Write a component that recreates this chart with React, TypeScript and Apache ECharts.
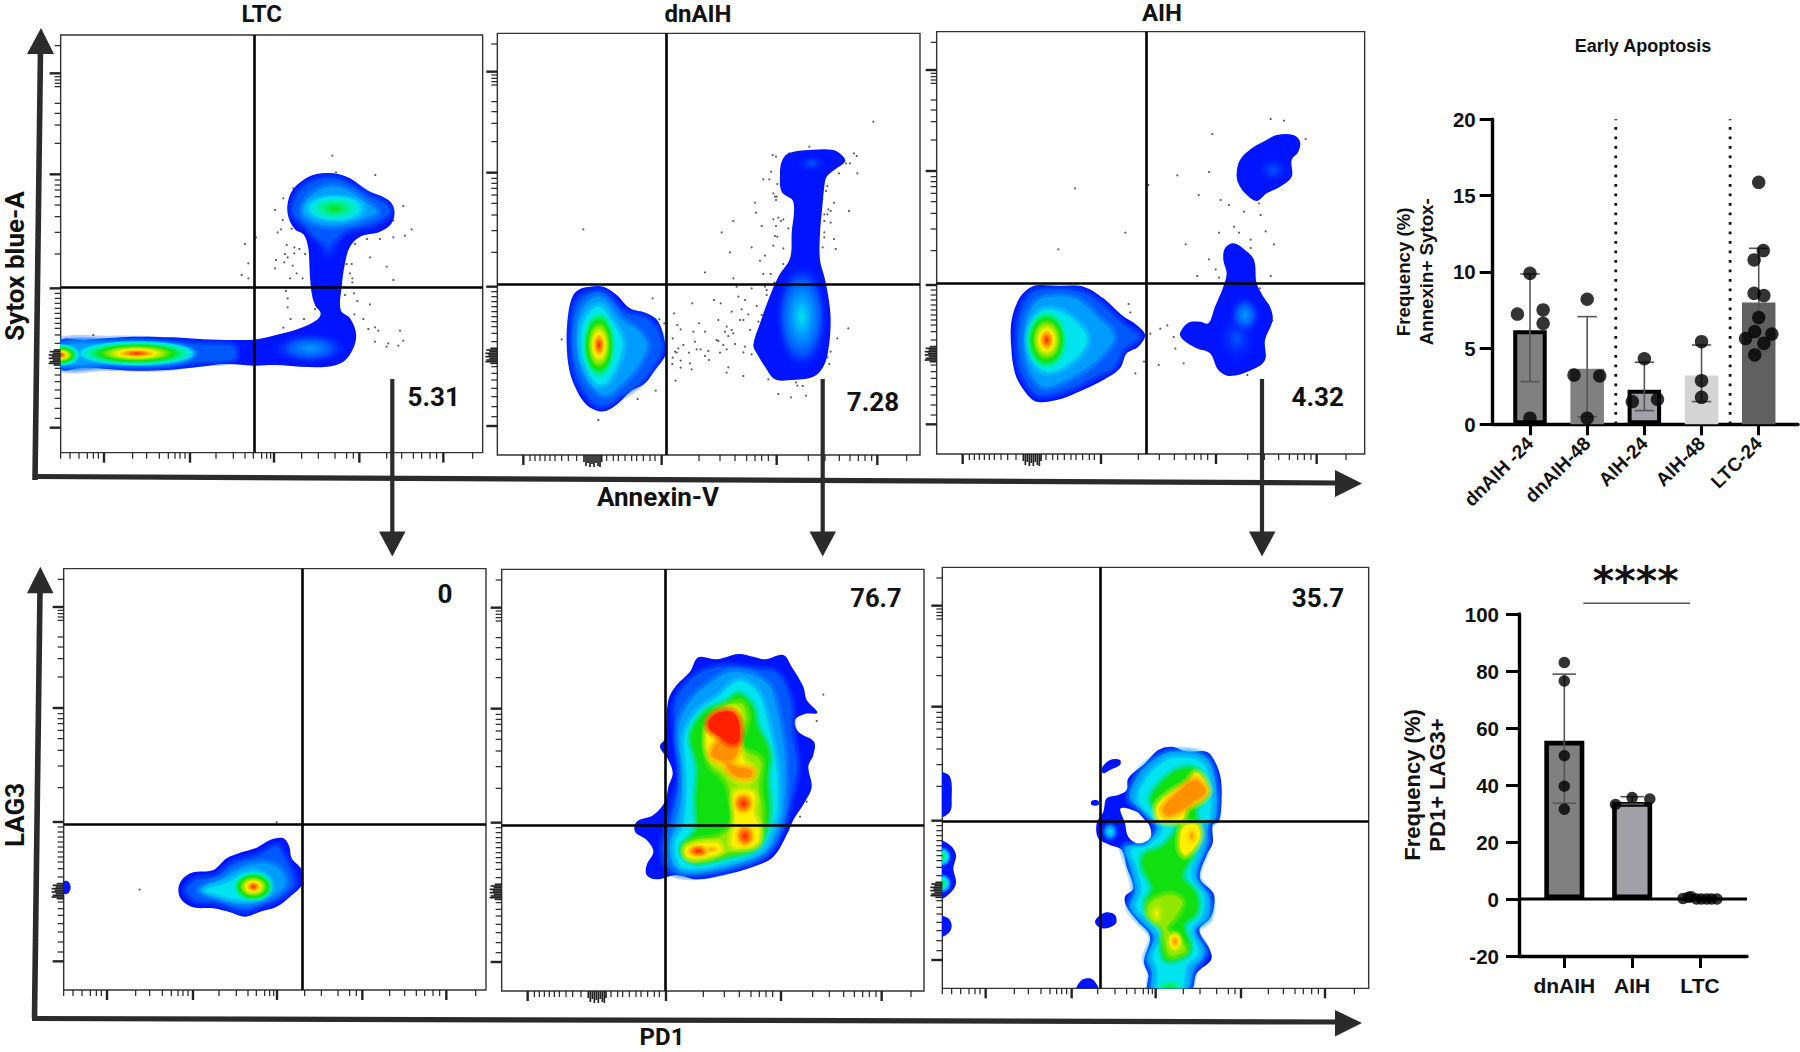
import React, { useEffect, useRef } from "react";
import * as echarts from "echarts";

/* ---------- bar chart data ---------- */
const earlyCategories = ["dnAIH -24", "dnAIH-48", "AIH-24", "AIH-48", "LTC-24"];
const earlyMeans = [6.16, 3.65, 2.27, 3.2, 7.98];
const earlyErrHigh = [9.86, 7.06, 4.07, 5.2, 11.54];
const earlyErrLow = [2.8, 0.5, 0.9, 1.49, 4.77];
const earlyPoints = [
  [1, 9.9], [0.78, 7.23], [1.23, 7.5], [1.23, 6.62], [1, 0.4],
  [2, 8.2], [1.77, 3.23], [2.22, 3.17], [2, 0.4],
  [3, 4.3], [2.79, 1.49], [3.23, 1.64],
  [4, 5.42], [4, 2.86], [4, 1.77],
  [5, 15.87], [5.08, 11.39], [4.92, 10.78], [4.92, 8.59], [5.09, 8.44], [5, 7.0],
  [4.93, 6.08], [5.23, 5.92], [4.77, 5.62], [5.09, 5.31], [4.93, 4.55],
];
const earlyFill = ["#808080", "#808080", "#a0a0a6", "#d4d4d4", "#606060"];
const earlyBorder = ["#000000", "#808080", "#000000", "#d4d4d4", "#606060"];
const earlySeparators = [2.5, 4.5];

const pdCategories = ["dnAIH", "AIH", "LTC"];
const pdMeans = [55.5, 34.0, 0];
const pdErrHigh = [78.9, 35.9];
const pdErrLow = [33.6, 33.3];
const pdFill = ["#808080", "#a0a0a6"];
const pdPoints = [
  [1, 83], [1, 76.5], [1, 50.3], [1, 39.6], [1, 31.5],
  [1.755, 33.2], [2, 35.6], [2.26, 35.1],
  [2.75, 0.2], [2.83, 0.6], [2.87, 0.8], [2.95, 0], [3.02, 0], [3.1, 0], [3.17, 0], [3.25, 0],
];

/* ---------- flow cytometry ticks (channel offsets from panel edge) ---------- */
const yMinorTicks = [32, 125, 135, 145, 155, 205, 235, 270, 325, 435, 450, 465, 485, 510, 545, 592, 657, 775, 790, 805, 820, 835, 850, 865, 880, 900, 925, 1000, 1020, 1040, 1065, 1090, 1120, 1150];
const yMajorTicks = [115, 418, 760, 1178];
const yClusterTicks = [945, 950, 955, 960, 965, 970, 975, 980, 985, 990];
const clusterLengths = [7, 11, 8, 12, 9, 12, 8, 11, 12, 7];
const xMinorA = [0, 28, 55, 80, 98, 113, 216, 258, 296, 323, 343, 358, 373, 466, 518, 553, 578, 603, 618, 630, 723, 773, 823, 858, 878, 978, 1023, 1058, 1083, 1108, 1128, 1236];
const xMajorA = [130, 388, 640, 896, 1148];
const xClusterA: number[] = [];
const xMinorB = [98, 113, 128, 143, 158, 173, 193, 213, 238, 328, 348, 363, 383, 403, 418, 438, 458, 473, 605, 668, 713, 748, 773, 793, 813, 933, 983, 1026, 1058, 1083, 1103, 1123, 1228];
const xMajorB = [78, 493, 838, 1140];
const xClusterB = [260, 266, 272, 278, 284, 290, 296, 302, 308, 313];

/* ---------- density colours ---------- */
const ramp = ["#0014ff", "#0058ff", "#009cff", "#00e4f0", "#00f090", "#10e010", "#90e800", "#fff000", "#ff9000", "#ff2000"];

/* ---------- LTC, Annexin-V / Sytox ---------- */
const ltcTopOutline = [[183, 1022], [250, 1020], [330, 1014], [400, 1010], [520, 1012], [610, 1018], [700, 1020], [770, 1018], [840, 1002], [900, 985], [950, 960], [962, 940], [945, 915], [935, 880], [930, 830], [928, 790], [925, 745], [912, 705], [885, 688], [865, 650], [863, 610], [878, 570], [910, 540], [950, 522], [1000, 520], [1050, 535], [1100, 570], [1165, 600], [1183, 630], [1175, 670], [1140, 695], [1080, 710], [1050, 740], [1035, 790], [1025, 860], [1022, 930], [1050, 955], [1068, 1000], [1060, 1045], [1030, 1085], [980, 1100], [900, 1100], [830, 1095], [760, 1097], [680, 1092], [600, 1100], [500, 1110], [400, 1112], [330, 1108], [250, 1102], [183, 1108]];
const ltcTopStreakL1 = [[170, 1030], [330, 1022], [480, 1025], [620, 1035], [700, 1040], [700, 1075], [600, 1085], [480, 1100], [330, 1098], [170, 1098]];
const ltcTopStreakL2 = [[170, 1040], [330, 1030], [470, 1032], [560, 1048], [560, 1075], [470, 1090], [330, 1090], [170, 1090]];
const ltcTopLobeL1 = [[880, 640], [890, 590], [930, 550], [1000, 535], [1060, 560], [1110, 590], [1160, 615], [1165, 640], [1120, 670], [1040, 690], [1000, 720], [960, 720], [920, 680]];
const ltcTopLobeL2 = [[910, 640], [930, 590], [990, 560], [1050, 575], [1100, 610], [1130, 635], [1090, 655], [1020, 675], [950, 670]];
const ltcTopBase = [[930, 1045], [985, 730]];
const ltcTopBaseSizes = [[120, 50, 0, 2], [45, 70, 0, 1]];
const ltcTopSpots = [[1005, 625], [410, 1060], [183, 1065]];
const ltcTopSpotSizes = [[108, 50, 2, 5], [190, 40, 2, 9], [60, 35, 2, 9]];
const ltcTopDots = [[997, 467], [1008, 517], [1126, 525], [880, 565], [850, 595], [825, 630], [1210, 618], [1235, 688], [1180, 662], [848, 660], [843, 688], [875, 686], [833, 697], [735, 732], [768, 712], [860, 735], [883, 742], [898, 747], [883, 760], [855, 762], [915, 762], [863, 772], [828, 780], [853, 787], [745, 790], [878, 797], [825, 805], [725, 825], [745, 835], [890, 820], [870, 835], [908, 835], [1101, 717], [1140, 717], [1180, 712], [1215, 707], [1065, 732], [1110, 772], [1040, 792], [1055, 792], [1160, 800], [1050, 820], [1057, 835], [1057, 847], [1180, 840], [858, 873], [863, 895], [863, 922], [1035, 885], [1062, 880], [1072, 903], [1110, 913], [945, 927], [872, 957], [912, 957], [1063, 943], [1090, 957], [850, 983], [1105, 987], [1125, 982], [1135, 992], [1200, 992], [1210, 1022], [1125, 1025], [1165, 1030], [1160, 1040], [1195, 1037], [280, 1005]];

/* ---------- dnAIH, Annexin-V / Sytox ---------- */
const dnTopOutlineLeft = [[300, 800], [340, 800], [380, 825], [420, 865], [470, 880], [505, 905], [527, 975], [527, 1005], [495, 1050], [465, 1090], [420, 1115], [385, 1150], [350, 1172], [320, 1172], [285, 1150], [255, 1100], [238, 1050], [230, 970], [235, 880], [250, 825], [275, 805]];
const dnTopLeftL1 = [[310, 815], [345, 820], [400, 875], [465, 895], [500, 930], [515, 985], [480, 1050], [440, 1095], [385, 1130], [345, 1155], [310, 1145], [270, 1090], [250, 1030], [245, 960], [250, 880], [270, 835]];
const dnTopLeftL2 = [[320, 830], [350, 845], [395, 900], [440, 930], [470, 975], [440, 1040], [395, 1090], [345, 1125], [300, 1090], [270, 1030], [260, 960], [268, 890], [290, 850]];
const dnTopLeftL3 = [[327, 860], [365, 905], [395, 960], [385, 1020], [350, 1085], [320, 1090], [285, 1030], [275, 965], [285, 900]];
const dnTopOutlineRight = [[895, 400], [960, 390], [1030, 390], [1060, 410], [1065, 425], [1040, 445], [1010, 470], [1003, 500], [997, 560], [990, 640], [990, 720], [1003, 770], [1015, 830], [1022, 900], [1015, 990], [1000, 1040], [970, 1070], [900, 1080], [855, 1078], [825, 1040], [800, 1000], [790, 975], [810, 910], [835, 840], [865, 770], [900, 715], [905, 640], [910, 545], [875, 515], [870, 460], [875, 425]];
const dnTopSpots = [[327, 975], [935, 890], [965, 430]];
const dnTopSpotSizes = [[52, 105, 3, 9], [82, 165, 0, 3], [50, 30, 0, 1]];
const dnTopDots = [[280, 628], [215, 958], [325, 1200], [443, 1137], [497, 1112], [488, 835], [508, 898], [523, 910], [1150, 305], [958, 380], [848, 405], [858, 410], [898, 400], [1092, 400], [1100, 408], [1080, 430], [1068, 430], [843, 455], [820, 478], [838, 478], [862, 492], [1047, 460], [1102, 460], [1012, 498], [1008, 513], [850, 520], [855, 530], [860, 530], [858, 540], [997, 538], [795, 548], [1032, 548], [798, 578], [1015, 568], [1022, 573], [1077, 573], [1003, 583], [1012, 583], [730, 603], [850, 598], [865, 593], [880, 598], [873, 603], [858, 618], [815, 618], [1003, 603], [1022, 608], [895, 625], [695, 637], [1003, 637], [855, 648], [862, 650], [1003, 652], [1032, 657], [850, 677], [880, 685], [785, 682], [998, 682], [1037, 687], [720, 697], [825, 707], [810, 722], [880, 732], [645, 757], [820, 762], [842, 762], [730, 775], [853, 788], [740, 800], [785, 805], [825, 800], [830, 810], [745, 830], [765, 840], [830, 825], [672, 840], [692, 850], [607, 850], [800, 858], [755, 868], [725, 875], [775, 883], [552, 880], [815, 885], [750, 900], [760, 900], [685, 900], [627, 910], [805, 905], [562, 915], [710, 920], [705, 935], [725, 930], [780, 930], [645, 935], [610, 935], [572, 928], [730, 940], [715, 948], [548, 955], [680, 960], [685, 963], [615, 965], [580, 975], [700, 975], [735, 972], [765, 980], [1075, 925], [1042, 955], [565, 985], [555, 995], [560, 998], [620, 988], [632, 988], [655, 993], [710, 988], [597, 998], [690, 998], [760, 997], [785, 1003], [548, 1013], [645, 1008], [657, 1020], [572, 1022], [600, 1030], [547, 1032], [572, 1043], [605, 1048], [715, 1042], [710, 1058], [760, 1068], [557, 1082], [1022, 995], [1012, 1012], [1018, 1032], [835, 1078], [918, 1087], [922, 1097], [938, 1098], [865, 1122], [903, 1132], [948, 1127]];

/* ---------- AIH, Annexin-V / Sytox ---------- */
const aihTopOutlineLeft = [[320, 796], [385, 798], [460, 800], [520, 835], [575, 885], [620, 915], [645, 945], [625, 980], [590, 1000], [570, 1045], [520, 1080], [440, 1118], [380, 1140], [320, 1145], [285, 1115], [255, 1060], [243, 970], [245, 900], [265, 840], [290, 810]];
const aihTopLeftL1 = [[330, 810], [450, 815], [520, 860], [580, 915], [625, 950], [580, 985], [550, 1040], [500, 1065], [420, 1105], [330, 1125], [295, 1095], [270, 1040], [262, 960], [272, 880], [295, 830]];
const aihTopLeftL2 = [[340, 835], [430, 835], [500, 890], [550, 950], [520, 1000], [460, 1050], [350, 1100], [310, 1070], [285, 1000], [285, 920], [305, 865]];
const aihTopLeftL3 = [[345, 870], [400, 880], [455, 925], [470, 960], [450, 1000], [400, 1040], [350, 1055], [315, 1030], [300, 985], [300, 930], [318, 890]];
const aihTopOutlineMid = [[880, 800], [890, 760], [880, 720], [885, 685], [910, 670], [945, 690], [972, 720], [980, 790], [1000, 830], [1020, 860], [1028, 900], [1005, 960], [1005, 1020], [965, 1050], [900, 1068], [865, 1050], [840, 1000], [800, 985], [760, 960], [750, 940], [775, 908], [810, 905], [835, 910], [855, 860]];
const aihTopOutlineUpper = [[920, 460], [930, 420], [965, 385], [1000, 365], [1040, 345], [1090, 345], [1110, 365], [1105, 395], [1085, 420], [1085, 470], [1050, 500], [1010, 520], [980, 543], [945, 520], [925, 490]];
const aihTopSpots = [[350, 960], [920, 955], [945, 885], [1030, 450]];
const aihTopSpotSizes = [[65, 92, 3, 9], [65, 85, 0, 1], [50, 60, 0, 2], [55, 45, 0, 1]];
const aihTopDots = [[1022, 297], [1062, 302], [1127, 357], [847, 342], [837, 456], [742, 466], [655, 495], [435, 505], [806, 525], [872, 540], [897, 555], [987, 550], [942, 575], [992, 585], [912, 620], [1007, 634], [867, 638], [927, 638], [586, 638], [385, 688], [767, 673], [962, 659], [962, 684], [1032, 673], [837, 718], [857, 748], [802, 768], [867, 773], [1022, 768], [882, 803], [990, 805], [460, 803], [520, 838], [596, 852], [601, 877], [712, 916], [691, 926], [661, 941], [731, 951], [736, 986], [810, 985], [642, 1025], [686, 1035], [761, 1030], [616, 1060], [952, 1065], [1027, 902]];

/* ---------- LTC, PD1 / LAG3 ---------- */
const ltcBottomOutline = [[535, 1020], [545, 990], [575, 968], [640, 960], [680, 925], [720, 908], [770, 893], [810, 870], [850, 865], [868, 890], [875, 925], [905, 960], [905, 1005], [870, 1040], [830, 1070], [780, 1085], [735, 1100], [695, 1088], [640, 1075], [580, 1072], [545, 1050]];
const ltcBottomL1 = [[560, 1020], [590, 990], [650, 980], [700, 940], [770, 920], [830, 890], [850, 920], [875, 970], [880, 1005], [840, 1040], [780, 1065], [730, 1080], [650, 1055], [590, 1050]];
const ltcBottomL2 = [[600, 1020], [660, 990], [720, 955], [790, 940], [840, 960], [855, 1000], [820, 1035], [770, 1055], [720, 1060], [650, 1040]];
const ltcBottomL3 = [[620, 1020], [680, 1000], [740, 970], [790, 975], [810, 1010], [780, 1040], [720, 1048], [660, 1035]];
const ltcBottomSmall = [[190, 995], [205, 995], [212, 1012], [205, 1030], [190, 1030]];
const ltcBottomSpots = [[760, 1010]];
const ltcBottomSpotSizes = [[62, 46, 3, 9]];
const ltcBottomDots = [[419, 1019], [830, 817]];

/* ---------- dnAIH, PD1 / LAG3 ---------- */
const dnBottomOutline = [[625, 292], [680, 298], [745, 282], [790, 290], [825, 298], [880, 285], [905, 320], [940, 380], [950, 420], [982, 458], [945, 462], [915, 480], [925, 515], [972, 545], [970, 585], [955, 620], [965, 680], [945, 725], [910, 780], [895, 815], [850, 890], [790, 920], [700, 945], [620, 958], [560, 945], [500, 958], [470, 945], [470, 915], [490, 875], [470, 840], [435, 815], [440, 785], [490, 765], [525, 725], [535, 680], [548, 640], [535, 600], [510, 560], [525, 535], [535, 420], [560, 375], [600, 335]];
const dnBottomMid = [[710, 320], [800, 330], [860, 340], [900, 420], [905, 520], [920, 620], [900, 720], [880, 790], [840, 870], [760, 915], [620, 945], [540, 930], [520, 860], [545, 760], [570, 650], [560, 520], [560, 420], [630, 340]];
const dnBottomL2 = [[735, 335], [830, 370], [860, 450], [880, 560], [885, 640], [880, 750], [860, 820], [820, 880], [760, 905], [640, 930], [560, 925], [540, 860], [560, 780], [575, 700], [575, 620], [565, 520], [590, 440], [660, 370]];
const dnBottomCyan = [[745, 365], [800, 395], [825, 460], [850, 570], [860, 640], [860, 750], [845, 800], [820, 860], [780, 885], [700, 910], [620, 925], [570, 915], [555, 850], [580, 800], [590, 720], [590, 630], [585, 530], [620, 460], [680, 415]];
const dnBottomGreen = [[745, 405], [785, 440], [800, 500], [835, 575], [830, 650], [835, 760], [820, 825], [790, 865], [700, 890], [620, 905], [585, 885], [578, 860], [620, 810], [620, 720], [625, 620], [605, 525], [650, 455], [710, 430]];
const dnBottomYellowGreen = [[750, 430], [770, 470], [750, 560], [810, 600], [805, 680], [815, 760], [800, 850], [720, 875], [640, 895], [590, 885], [600, 850], [690, 830], [730, 790], [720, 690], [700, 650], [660, 610], [650, 520], [670, 460]];
const dnBottomY1 = [[740, 450], [745, 540], [760, 600], [790, 630], [780, 660], [745, 660], [700, 620], [660, 590], [650, 520], [670, 470]];
const dnBottomY2 = [[735, 700], [790, 700], [790, 760], [805, 800], [800, 850], [740, 862], [725, 850], [735, 780]];
const dnBottomY3 = [[590, 862], [680, 850], [692, 872], [620, 895], [590, 888]];
const dnBottomRed = [[680, 460], [725, 455], [745, 480], [750, 520], [745, 545], [720, 550], [690, 530], [660, 510], [655, 485]];
const dnBottomOrange1 = [[700, 540], [745, 550], [735, 590], [720, 600], [690, 600], [665, 585], [675, 555]];
const dnBottomOrange2 = [[710, 612], [745, 622], [785, 632], [780, 650], [745, 650], [720, 635]];
const dnBottomSpots = [[760, 730], [765, 828], [625, 873], [665, 868]];
const dnBottomSpotSizes = [[38, 40, 7, 9], [36, 42, 7, 9], [40, 24, 7, 9], [30, 14, 7, 8]];
const dnBottomDots = [[1000, 404], [980, 483], [950, 725], [930, 770]];

/* ---------- AIH, PD1 / LAG3 ---------- */
const aihBottomOutline = [[725, 560], [770, 575], [830, 575], [855, 605], [873, 660], [873, 750], [865, 785], [848, 795], [848, 850], [830, 885], [810, 955], [850, 1000], [852, 1040], [840, 1075], [808, 1110], [840, 1170], [843, 1200], [800, 1240], [782, 1290], [655, 1290], [655, 1245], [642, 1205], [660, 1130], [620, 1080], [590, 1040], [585, 1010], [610, 985], [590, 920], [575, 870], [540, 855], [505, 835], [500, 790], [520, 755], [530, 715], [565, 705], [590, 690], [595, 655], [645, 610], [685, 570]];
const aihBottomHole = [[572, 745], [620, 755], [640, 775], [660, 800], [660, 835], [625, 850], [595, 830], [585, 790]];
const aihBottomSmall = [
  [[515, 625], [540, 600], [570, 600], [570, 615], [540, 630], [520, 640]],
  [[485, 722], [505, 722], [505, 735], [485, 735]],
  [[505, 1070], [530, 1057], [555, 1065], [558, 1090], [530, 1105], [505, 1100], [495, 1085]],
  [[440, 1290], [455, 1260], [480, 1255], [495, 1265], [505, 1290]],
  [[30, 640], [60, 650], [65, 720], [60, 755], [30, 770]],
  [[30, 845], [60, 855], [78, 885], [70, 925], [78, 970], [60, 1000], [30, 1015]],
  [[30, 1070], [55, 1075], [65, 1098], [55, 1120], [30, 1130]],
];
const aihBottomL2 = [[725, 575], [825, 590], [855, 660], [858, 770], [835, 795], [832, 850], [800, 950], [838, 1010], [835, 1075], [795, 1110], [825, 1175], [790, 1230], [770, 1290], [668, 1290], [665, 1235], [650, 1195], [670, 1130], [628, 1080], [600, 1040], [615, 990], [600, 920], [585, 862], [645, 855], [680, 800], [645, 755], [600, 715], [625, 645], [670, 600]];
const aihBottomCyan = [[725, 595], [810, 605], [838, 660], [838, 770], [818, 790], [812, 850], [782, 945], [820, 1010], [815, 1065], [782, 1110], [805, 1180], [770, 1215], [752, 1290], [688, 1290], [682, 1225], [670, 1190], [690, 1130], [650, 1075], [620, 1040], [635, 990], [620, 920], [605, 870], [655, 858], [700, 805], [660, 765], [625, 715], [650, 655], [690, 615]];
const aihBottomGreen = [[795, 630], [822, 670], [822, 710], [795, 745], [800, 800], [788, 875], [755, 950], [795, 1000], [798, 1055], [760, 1095], [778, 1165], [745, 1195], [705, 1195], [698, 1140], [705, 1105], [660, 1060], [650, 1025], [670, 985], [640, 920], [645, 885], [700, 860], [745, 800], [710, 770], [665, 720], [700, 665], [750, 630]];
const aihBottomLime1 = [[660, 1030], [720, 1005], [755, 1025], [735, 1070], [710, 1105], [755, 1150], [765, 1172], [720, 1185], [705, 1140], [695, 1100], [655, 1065]];
const aihBottomY1 = [[800, 640], [835, 690], [815, 720], [770, 745], [755, 780], [690, 780], [680, 740], [720, 700], [770, 670]];
const aihBottomO1 = [[795, 660], [825, 695], [790, 725], [745, 755], [710, 765], [700, 745], [740, 700]];
const aihBottomY2 = [[760, 800], [800, 795], [810, 830], [790, 865], [765, 885], [750, 860]];
const aihBottomSpots = [[785, 828], [680, 1060], [735, 1145], [720, 1285], [540, 815], [37, 890], [37, 970]];
const aihBottomSpotSizes = [[22, 34, 7, 8], [30, 48, 6, 7], [28, 38, 6, 8], [50, 30, 3, 5], [26, 30, 1, 3], [28, 30, 1, 5], [28, 30, 1, 5]];

function Contour(level: number, pts: number[][]) { return { kind: "soft", level, pts }; }
function Flat(pts: number[][], fill = ramp[0]) { return { kind: "flat", fill, pts }; }
function spotList(centres: number[][], sizes: number[][]) {
  return centres.map((c, i) => ({ kind: "spot", c, s: sizes[i] }));
}

const panels: any[] = [
  { ox: 0, oy: 0, L: 182, R: 1448, T: 105, B: 1358, gx: 763, gy: 862, xm: xMinorA, xM: xMajorA, xc: xClusterA,
    shapes: [Flat(ltcTopOutline), ...spotList(ltcTopBase, ltcTopBaseSizes), Contour(1, ltcTopStreakL1), Contour(2, ltcTopStreakL2), Contour(1, ltcTopLobeL1), Contour(2, ltcTopLobeL2), ...spotList(ltcTopSpots, ltcTopSpotSizes)], dots: ltcTopDots },
  { ox: 490, oy: 20, L: 22, R: 1290, T: 40, B: 1305, gx: 530, gy: 792, xm: xMinorB, xM: xMajorB, xc: xClusterB,
    shapes: [Flat(dnTopOutlineLeft), Flat(dnTopOutlineRight), Contour(1, dnTopLeftL1), Contour(2, dnTopLeftL2), Contour(3, dnTopLeftL3), ...spotList(dnTopSpots, dnTopSpotSizes)], dots: dnTopDots },
  { ox: 930, oy: 20, L: 20, R: 1304, T: 35, B: 1302, gx: 649, gy: 790, xm: xMinorB, xM: xMajorB, xc: xClusterB,
    shapes: [Flat(aihTopOutlineLeft), Flat(aihTopOutlineMid), Flat(aihTopOutlineUpper), Contour(1, aihTopLeftL1), Contour(2, aihTopLeftL2), Contour(3, aihTopLeftL3), ...spotList(aihTopSpots, aihTopSpotSizes)], dots: aihTopDots },
  { ox: 0, oy: 550, L: 191, R: 1458, T: 56, B: 1320, gx: 906, gy: 823, xm: xMinorA, xM: xMajorA, xc: xClusterA,
    shapes: [Flat(ltcBottomOutline), Flat(ltcBottomSmall), Contour(1, ltcBottomL1), Contour(2, ltcBottomL2), Contour(3, ltcBottomL3), ...spotList(ltcBottomSpots, ltcBottomSpotSizes)], dots: ltcBottomDots },
  { ox: 490, oy: 560, L: 35, R: 1302, T: 28, B: 1293, gx: 527, gy: 796, xm: xMinorB, xM: xMajorB, xc: xClusterB,
    shapes: [Flat(dnBottomOutline), Contour(1, dnBottomMid), Contour(2, dnBottomL2), Contour(3, dnBottomCyan), Contour(5, dnBottomGreen), Contour(6, dnBottomYellowGreen), Contour(7, dnBottomY1), Contour(7, dnBottomY2), Contour(7, dnBottomY3), Contour(8, dnBottomOrange1), Contour(8, dnBottomOrange2), Contour(9, dnBottomRed), ...spotList(dnBottomSpots, dnBottomSpotSizes)], dots: dnBottomDots },
  { ox: 930, oy: 560, L: 37, R: 1316, T: 22, B: 1285, gx: 510, gy: 785, xm: xMinorA, xM: xMajorA, xc: xClusterA,
    shapes: [Flat(aihBottomOutline), ...aihBottomSmall.map((p) => Flat(p)), Contour(2, aihBottomL2), Contour(3, aihBottomCyan), Contour(5, aihBottomGreen), Contour(6, aihBottomLime1), Contour(7, aihBottomY1), Contour(8, aihBottomO1), Contour(7, aihBottomY2), Flat(aihBottomHole, "#ffffff"), ...spotList(aihBottomSpots, aihBottomSpotSizes)], dots: [] as number[][] },
];

const FLOW_FONT = "Roboto, sans-serif";
const BAR_FONT = '"Liberation Sans", Arial, sans-serif';

function hexA(hex: string, a: number) {
  const n = parseInt(hex.slice(1), 16);
  return `rgba(${(n >> 16) & 255},${(n >> 8) & 255},${n & 255},${a})`;
}

function flowSeries(p: any, i: number) {
  const densityItem = (params: any, api: any) => {
    const sh = p.shapes[params.dataIndex];
    if (sh.kind === "spot") {
      const c = api.coord(sh.c);
      const edge = api.coord([sh.c[0] + sh.s[0], sh.c[1] + sh.s[1]]);
      const [, , from, peak] = sh.s;
      const stops: any[] = [];
      for (let l = peak; l >= from; l--) {
        const off = (peak - l) / (peak - from);
        stops.push({ offset: off, color: l === from ? hexA(ramp[l], 0) : ramp[l] });
      }
      return {
        type: "ellipse",
        shape: { cx: c[0], cy: c[1], rx: Math.abs(edge[0] - c[0]), ry: Math.abs(edge[1] - c[1]) },
        style: { fill: { type: "radial", x: 0.5, y: 0.5, r: 0.5, colorStops: stops } },
      };
    }
    const points = sh.pts.map((q: number[]) => api.coord(q));
    if (sh.kind === "flat") {
      return { type: "polygon", shape: { points, smooth: 0.35 }, style: { fill: sh.fill } };
    }
    const col = ramp[sh.level];
    return {
      type: "group",
      children: [
        ...[10, 6, 3].map((w) => ({
          type: "polygon",
          shape: { points, smooth: 0.35 },
          style: { fill: "none", stroke: col, lineWidth: w, opacity: 0.28, lineJoin: "round" },
        })),
        { type: "polygon", shape: { points, smooth: 0.35 }, style: { fill: col } },
      ],
    };
  };
  const xTicks = [
    ...p.xm.map((v: number) => [p.L + v, p.B, 6, 1.2]),
    ...p.xM.map((v: number) => [p.L + v, p.B, 10, 2.4]),
    ...p.xc.map((v: number, k: number) => [p.L + v, p.B, clusterLengths[k], 1.7]),
  ];
  const yTicks = [
    ...yMinorTicks.map((v) => [p.L, p.T + v, 6, 1.2]),
    ...yMajorTicks.map((v) => [p.L, p.T + v, 11, 2.4]),
    ...yClusterTicks.map((v, k) => [p.L, p.T + v, clusterLengths[k], 1.7]),
  ];
  const tickItem = (vertical: boolean) => (_: any, api: any) => {
    const q = api.coord([api.value(0), api.value(1)]);
    const len = api.value(2);
    return {
      type: "line",
      shape: vertical
        ? { x1: q[0], y1: q[1], x2: q[0] - len, y2: q[1] }
        : { x1: q[0], y1: q[1], x2: q[0], y2: q[1] + len },
      style: { stroke: "#222222", lineWidth: api.value(3) },
    };
  };
  return [
    {
      type: "custom", xAxisIndex: i, yAxisIndex: i, z: 2, clip: true, silent: true,
      renderItem: densityItem, data: p.shapes.map(() => [p.L, p.T]), encode: { x: 0, y: 1 },
    },
    {
      type: "scatter", xAxisIndex: i, yAxisIndex: i, z: 3, silent: true, symbolSize: 2.2,
      itemStyle: { color: "#333333" }, data: p.dots,
      markLine: {
        silent: true, symbol: "none", label: { show: false }, z: 4,
        lineStyle: { color: "#000000", width: 2.6, type: "solid" },
        data: [{ xAxis: p.gx }, { yAxis: p.gy }],
      },
    },
    { type: "custom", xAxisIndex: i, yAxisIndex: i, z: 3, silent: true, clip: false, renderItem: tickItem(false), data: xTicks, encode: { x: 0, y: 1 } },
    { type: "custom", xAxisIndex: i, yAxisIndex: i, z: 3, silent: true, clip: false, renderItem: tickItem(true), data: yTicks, encode: { x: 0, y: 1 } },
  ];
}

function errorSeries(xIdx: number, xs: number[], hi: number[], lo: number[], cap: number) {
  return {
    type: "custom", xAxisIndex: xIdx, yAxisIndex: xIdx, z: 5, silent: true, clip: false,
    encode: { x: 0, y: [1, 2] },
    data: xs.map((x, k) => [x, hi[k], lo[k]]),
    renderItem: (_: any, api: any) => {
      const a = api.coord([api.value(0), api.value(1)]);
      const b = api.coord([api.value(0), api.value(2)]);
      const s = { stroke: "#555555", lineWidth: 1.6 };
      return {
        type: "group",
        children: [
          { type: "line", shape: { x1: a[0], y1: a[1], x2: b[0], y2: b[1] }, style: s },
          { type: "line", shape: { x1: a[0] - cap, y1: a[1], x2: a[0] + cap, y2: a[1] }, style: s },
          { type: "line", shape: { x1: b[0] - cap, y1: b[1], x2: b[0] + cap, y2: b[1] }, style: s },
        ],
      };
    },
  };
}

function txt(text: string, x: number, y: number, size: number, extra: any = {}) {
  return {
    type: "text", x, y, z: 50, rotation: extra.rotation || 0,
    style: {
      text, fill: extra.fill || "#111111", fontSize: size, fontWeight: extra.weight || 700,
      fontFamily: extra.font || FLOW_FONT, textAlign: "center", textVerticalAlign: "middle",
    },
  };
}
function shaft(x1: number, y1: number, x2: number, y2: number, w: number) {
  return { type: "line", z: 40, shape: { x1, y1, x2, y2 }, style: { stroke: "#2b2b2b", lineWidth: w } };
}
function head(points: number[][]) {
  return { type: "polygon", z: 41, shape: { points }, style: { fill: "#2b2b2b" } };
}

function buildOption(): any {
  const grid: any[] = [];
  const xAxis: any[] = [];
  const yAxis: any[] = [];
  const series: any[] = [];
  panels.forEach((p, i) => {
    grid.push({
      left: p.ox + p.L / 3, top: p.oy + p.T / 3, width: (p.R - p.L) / 3, height: (p.B - p.T) / 3,
      show: true, borderColor: "#333333", borderWidth: 1.4, backgroundColor: "#ffffff",
    });
    xAxis.push({ gridIndex: i, type: "value", min: p.L, max: p.R, show: false });
    yAxis.push({ gridIndex: i, type: "value", min: p.T, max: p.B, inverse: true, show: false });
    series.push(...flowSeries(p, i));
  });

  const axisLine = { show: true, lineStyle: { color: "#000", width: 3.4 } };
  const axisTick = { show: true, length: 13, lineStyle: { color: "#000", width: 3 } };
  const tickLabel = { color: "#111", fontWeight: 700, fontFamily: BAR_FONT };

  /* Early Apoptosis */
  grid.push({ left: 1492.7, top: 119.3, width: 305.3, height: 305 });
  xAxis.push({
    gridIndex: 6, type: "value", min: 0.348, max: 5.687, splitLine: { show: false },
    axisLine, axisTick: { ...axisTick, length: 11, customValues: [1, 2, 3, 4, 5] },
    axisLabel: {
      ...tickLabel, fontSize: 19, rotate: 45, margin: 16, customValues: [1, 2, 3, 4, 5],
      formatter: (v: number) => earlyCategories[v - 1],
    },
  });
  yAxis.push({
    gridIndex: 6, type: "value", min: 0, max: 20, interval: 5, splitLine: { show: false },
    axisLine, axisTick, axisLabel: { ...tickLabel, fontSize: 20.5, margin: 17 },
    name: "Frequency (%)\nAnnexin+ Sytox-", nameLocation: "middle", nameRotate: 90, nameGap: 55,
    nameTextStyle: { ...tickLabel, fontSize: 18.7, lineHeight: 23 },
  });
  series.push({
    type: "bar", xAxisIndex: 6, yAxisIndex: 6, barWidth: 33.5, z: 3, silent: true,
    data: earlyMeans.map((m, k) => ({
      value: [k + 1, m],
      itemStyle: { color: earlyFill[k], borderColor: earlyBorder[k], borderWidth: 4 },
    })),
  });
  earlySeparators.forEach((x) =>
    series.push({
      type: "line", xAxisIndex: 6, yAxisIndex: 6, symbol: "none", z: 4, silent: true,
      lineStyle: { color: "#111", width: 2.8, type: [2.8, 6.7] },
      data: [[x, 0], [x, 20]],
    })
  );
  series.push(errorSeries(6, [1, 2, 3, 4, 5], earlyErrHigh, earlyErrLow, 9.7));
  series.push({
    type: "scatter", xAxisIndex: 6, yAxisIndex: 6, symbolSize: 13.5, z: 6, silent: true, clip: false,
    itemStyle: { color: "#000" }, data: earlyPoints,
  });

  /* PD1+ LAG3+ */
  grid.push({ left: 1519, top: 614, width: 228, height: 342 });
  xAxis.push({
    gridIndex: 7, type: "value", min: 0.332, max: 3.693, splitLine: { show: false },
    axisLine: { ...axisLine, onZero: false }, axisTick: { ...axisTick, length: 12, customValues: [1, 2, 3] },
    axisLabel: {
      ...tickLabel, fontSize: 21, margin: 19, customValues: [1, 2, 3],
      formatter: (v: number) => pdCategories[v - 1],
    },
  });
  yAxis.push({
    gridIndex: 7, type: "value", min: -20, max: 100, interval: 20, splitLine: { show: false },
    axisLine, axisTick, axisLabel: { ...tickLabel, fontSize: 20.5, margin: 20 },
    name: "Frequency (%)\nPD1+ LAG3+", nameLocation: "middle", nameRotate: 90, nameGap: 69,
    nameTextStyle: { ...tickLabel, fontSize: 22, lineHeight: 25 },
  });
  series.push({
    type: "bar", xAxisIndex: 7, yAxisIndex: 7, barWidth: 40, z: 3, silent: true,
    data: [1, 2].map((x, k) => ({
      value: [x, pdMeans[k]],
      itemStyle: { color: pdFill[k], borderColor: "#000", borderWidth: 4.6 },
    })),
  });
  series.push({
    type: "line", xAxisIndex: 7, yAxisIndex: 7, symbol: "none", z: 4, silent: true,
    lineStyle: { color: "#000", width: 3.2 }, data: [[0.332, 0], [3.693, 0]],
  });
  series.push(errorSeries(7, [1, 2], pdErrHigh, pdErrLow, 11.7));
  series.push({
    type: "scatter", xAxisIndex: 7, yAxisIndex: 7, symbolSize: 11.5, z: 6, silent: true, clip: false,
    itemStyle: { color: "#000" }, data: pdPoints,
  });

  const graphic = [
    /* figure axes */
    shaft(40.5, 50, 35, 480, 5.6), head([[41, 28], [27, 54], [54, 54]]),
    shaft(33, 476.5, 1338, 483, 5.2), head([[1335, 470], [1362, 483.5], [1335, 497]]),
    shaft(40, 590, 34.5, 1018, 5.6), head([[40.3, 566.7], [27, 593.3], [53.5, 593.3]]),
    shaft(32, 1018.5, 1338, 1022, 5.2), head([[1335, 1010], [1362, 1023], [1335, 1036.5]]),
    /* gate arrows */
    shaft(392.3, 379, 392.3, 535, 4.2), head([[379, 531.5], [405.5, 531.5], [392.3, 556.5]]),
    shaft(822.7, 379, 822.7, 535, 4.2), head([[809.5, 531.5], [836, 531.5], [822.7, 556.5]]),
    shaft(1262, 379, 1262, 535, 4.2), head([[1249, 531.5], [1275.5, 531.5], [1262, 556.5]]),
    /* text */
    txt("LTC", 261.7, 14, 24),
    txt("dnAIH", 698, 14, 24),
    txt("AIH", 1162, 13, 24),
    txt("Annexin-V", 658, 497, 26),
    txt("PD1", 662, 1037, 24),
    txt("Sytox blue-A", 15, 266, 26, { rotation: Math.PI / 2 }),
    txt("LAG3", 15, 815, 26, { rotation: Math.PI / 2 }),
    txt("5.31", 433.7, 397, 26),
    txt("7.28", 873, 401.7, 26),
    txt("4.32", 1317.7, 396.7, 26),
    txt("0", 445, 593.5, 26),
    txt("76.7", 876, 598, 25.5),
    txt("35.7", 1318, 598, 26),
    txt("Early Apoptosis", 1643, 46, 18, { font: BAR_FONT }),
    txt("****", 1635.7, 581, 41, { font: '"DejaVu Sans"' }),
    { type: "line", z: 40, shape: { x1: 1583.3, y1: 603.3, x2: 1690, y2: 603.3 }, style: { stroke: "#555555", lineWidth: 1.5 } },
  ];

  return { animation: false, backgroundColor: "#ffffff", grid, xAxis, yAxis, series, graphic };
}

export default function App() {
  const ref = useRef<HTMLDivElement>(null);
  useEffect(() => {
    document.body.style.margin = "0";
    const chart = echarts.init(ref.current!, undefined, { renderer: "svg" });
    chart.setOption(buildOption());
    return () => chart.dispose();
  }, []);
  return <div ref={ref} style={{ position: "absolute", left: 0, top: 0, width: 1800, height: 1052 }} />;
}
